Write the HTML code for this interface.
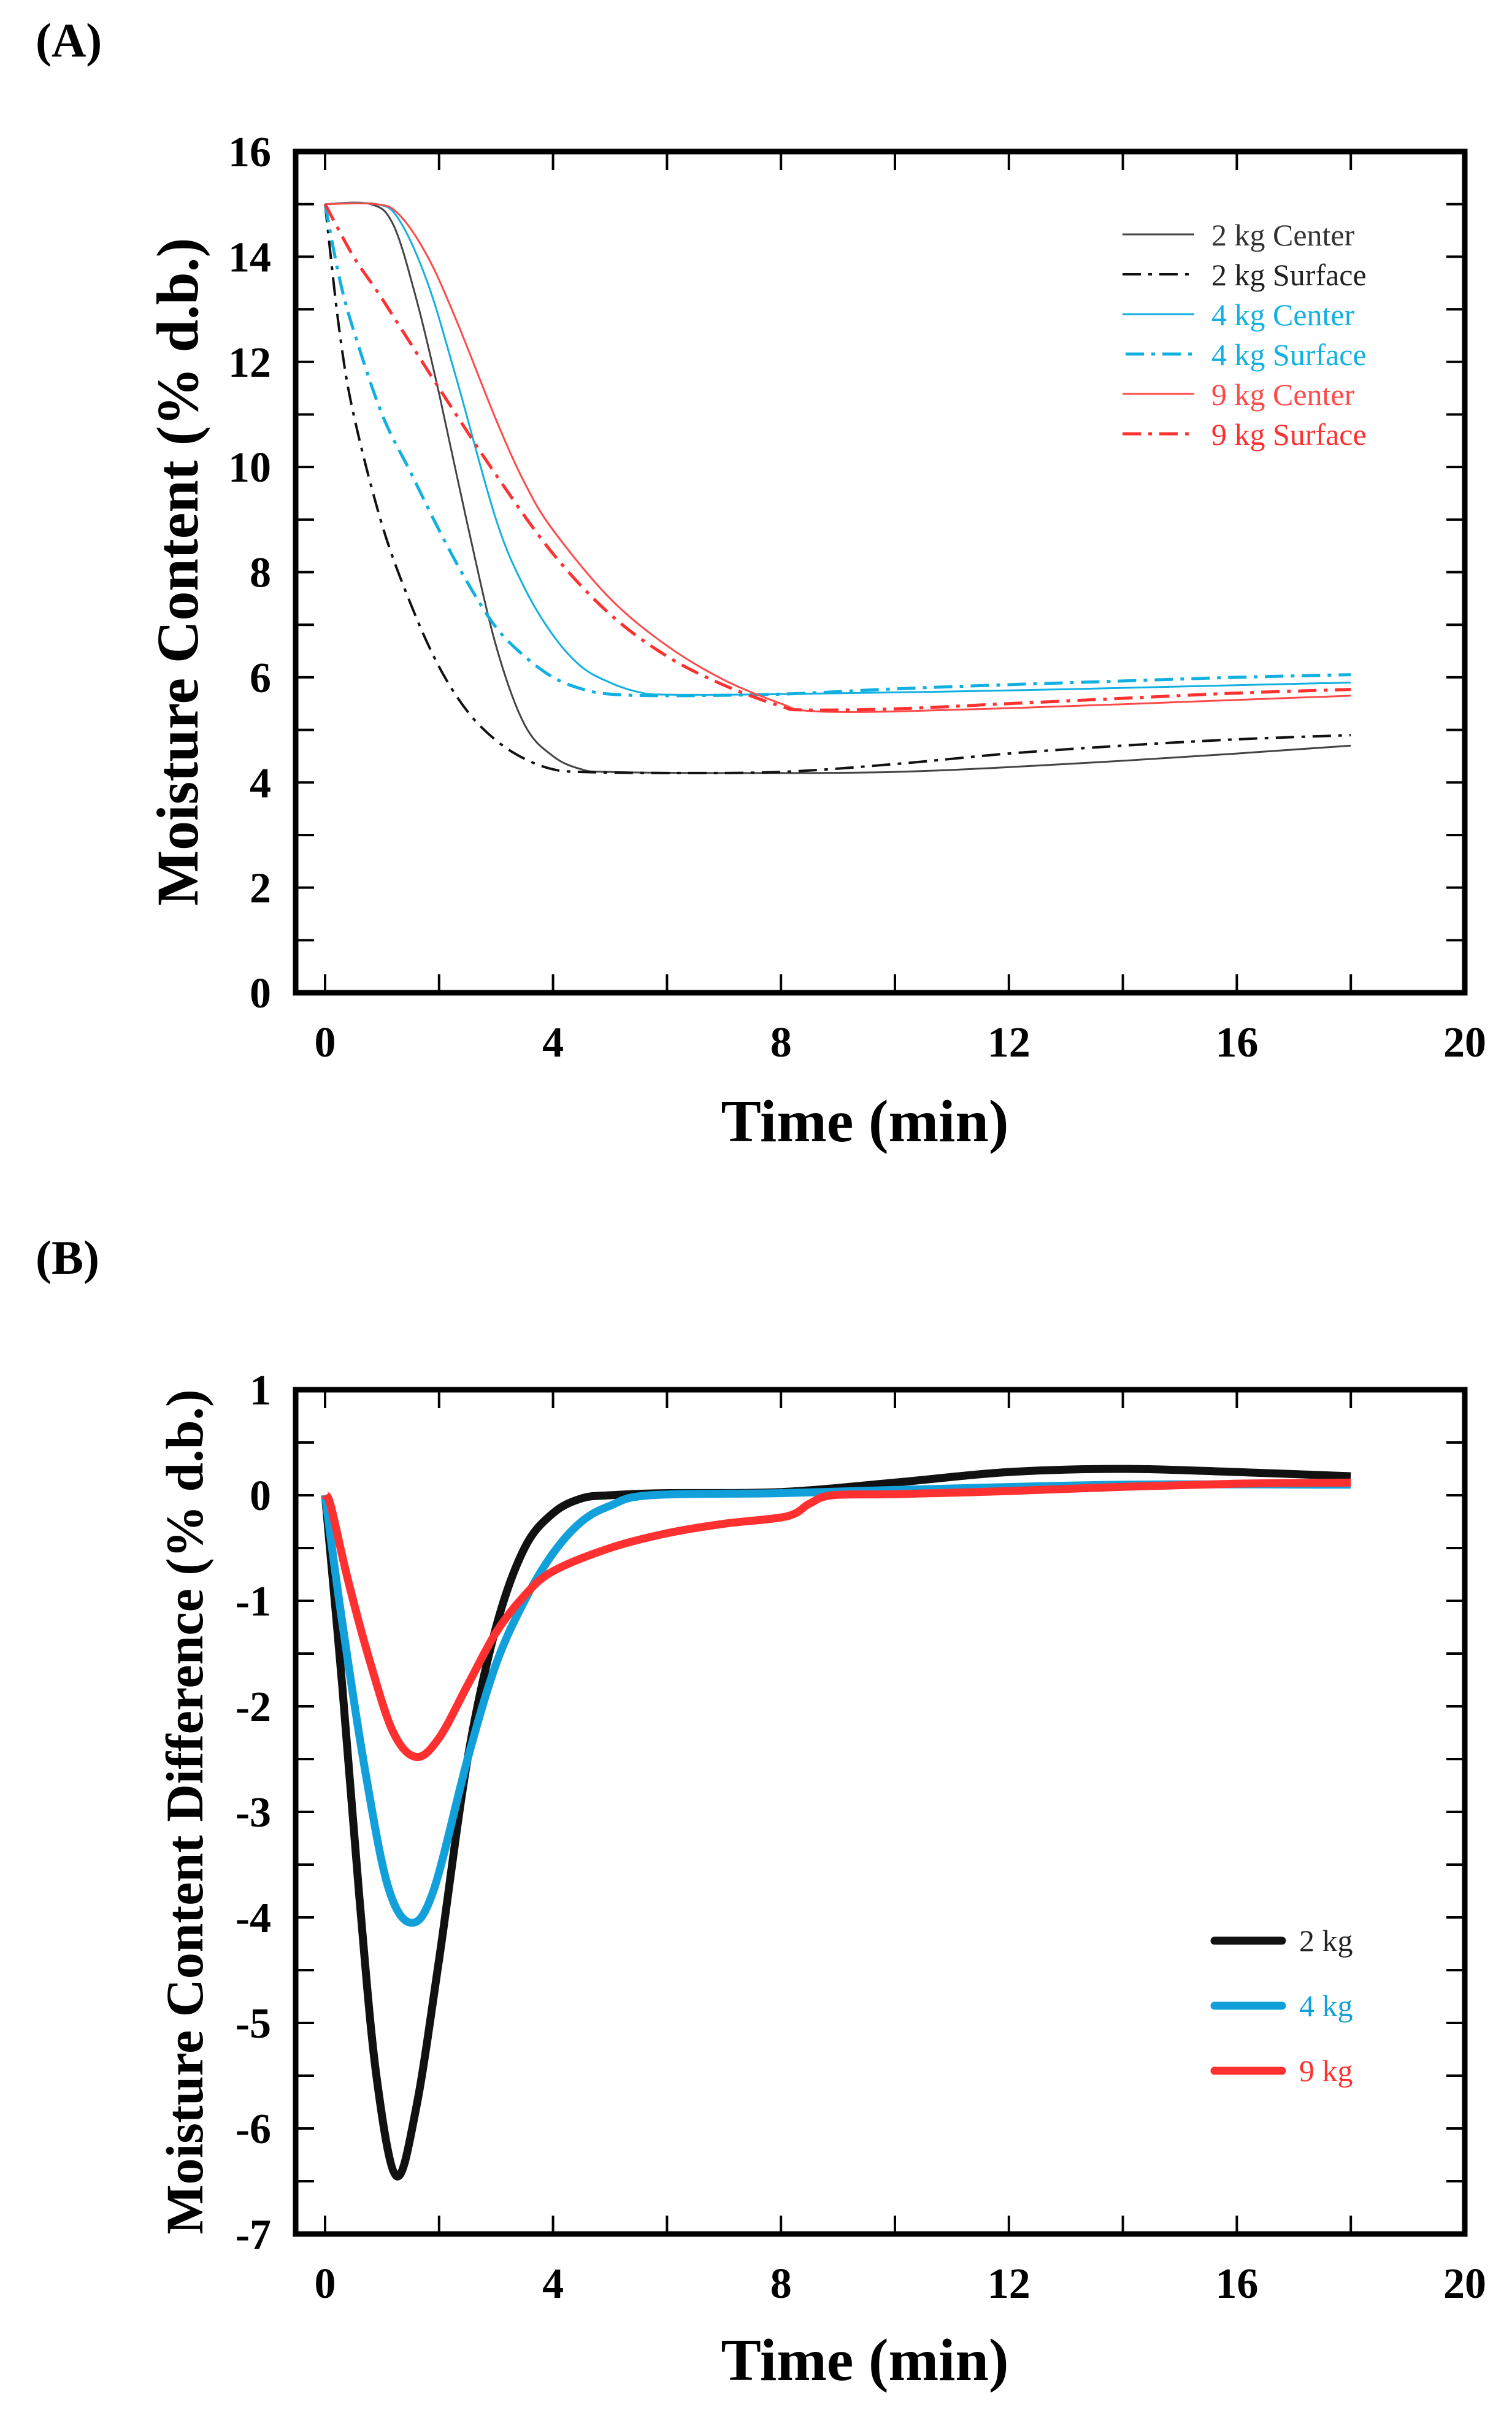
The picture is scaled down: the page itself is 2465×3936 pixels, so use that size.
<!DOCTYPE html>
<html><head><meta charset="utf-8"><style>
html,body{margin:0;padding:0;background:#fff;}
svg{display:block;}
text{font-family:"Liberation Serif",serif;}
</style></head><body>
<svg id="s" width="2465" height="3936" viewBox="0 0 2465 3936" xmlns="http://www.w3.org/2000/svg">
<rect width="2465" height="3936" fill="#fff"/>
<text x="58" y="92" font-size="78" font-weight="bold">(A)</text>
<text x="58" y="2076" font-size="78" font-weight="bold">(B)</text>
<g id="A"></g><g id="B"></g>
<text x="1410" y="1860" font-size="98" font-weight="bold" text-anchor="middle">Time (min)</text>
<text x="1410" y="3879" font-size="98" font-weight="bold" text-anchor="middle">Time (min)</text>
<text transform="translate(322,932) rotate(-90)" font-size="96" font-weight="bold" text-anchor="middle">Moisture Content (% d.b.)</text>
<text transform="translate(330,2953) rotate(-90)" font-size="86" font-weight="bold" text-anchor="middle">Moisture Content Difference (% d.b.)</text>
<!-- legend A -->
<g font-size="50">
<line x1="1830" y1="382" x2="1947" y2="382" stroke="#444" stroke-width="3"/>
<text x="1975" y="400" fill="#333">2 kg Center</text>
<line x1="1830" y1="447" x2="1947" y2="447" stroke="#111" stroke-width="4" stroke-dasharray="30,12,6,12"/>
<text x="1975" y="465" fill="#222">2 kg  Surface</text>
<line x1="1830" y1="512" x2="1947" y2="512" stroke="#12b0e0" stroke-width="3"/>
<text x="1975" y="530" fill="#12b0e0">4 kg Center</text>
<line x1="1835" y1="577" x2="1947" y2="577" stroke="#12b0e0" stroke-width="5" stroke-dasharray="30,12,6,12"/>
<text x="1975" y="595" fill="#12b0e0">4 kg Surface</text>
<line x1="1830" y1="642" x2="1947" y2="642" stroke="#ff4a4a" stroke-width="3"/>
<text x="1975" y="660" fill="#ff4a4a">9 kg Center</text>
<line x1="1830" y1="707" x2="1947" y2="707" stroke="#ff3030" stroke-width="5" stroke-dasharray="30,12,6,12"/>
<text x="1975" y="725" fill="#ff3030">9 kg Surface</text>
</g>
<g font-size="50">
<line x1="1980" y1="3163" x2="2090" y2="3163" stroke="#111" stroke-width="13" stroke-linecap="round"/>
<text x="2118" y="3180" fill="#222">2 kg</text>
<line x1="1980" y1="3269" x2="2090" y2="3269" stroke="#12a0db" stroke-width="13" stroke-linecap="round"/>
<text x="2118" y="3286" fill="#12a0db">4 kg</text>
<line x1="1980" y1="3375" x2="2090" y2="3375" stroke="#ff3030" stroke-width="13" stroke-linecap="round"/>
<text x="2118" y="3392" fill="#ff3030">9 kg</text>
</g>
</svg>
<script>
const NS="http://www.w3.org/2000/svg";
function el(p,t,a,txt){const e=document.createElementNS(NS,t);for(const k in a)e.setAttribute(k,a[k]);if(txt!==undefined)e.textContent=txt;p.appendChild(e);return e;}
const X=t=>530+92.9*t;
function axes(g,top,bot,ymin,ymax,ystepMinor,ylabels){
  const Y=v=>bot-(v-ymin)*(bot-top)/(ymax-ymin);
  for(let t=0;t<=18;t+=2){
    el(g,'line',{x1:X(t),y1:bot,x2:X(t),y2:bot-30,stroke:'#000','stroke-width':4});
    el(g,'line',{x1:X(t),y1:top,x2:X(t),y2:top+30,stroke:'#000','stroke-width':4});
  }
  for(let t=0;t<=20;t+=4){
    el(g,'text',{x:X(t),y:bot+104,'font-size':70,'font-weight':'bold','text-anchor':'middle'},String(t));
  }
  for(let v=ymin;v<=ymax+1e-9;v+=ystepMinor){
    el(g,'line',{x1:482,y1:Y(v),x2:512,y2:Y(v),stroke:'#000','stroke-width':4});
    el(g,'line',{x1:2388,y1:Y(v),x2:2358,y2:Y(v),stroke:'#000','stroke-width':4});
  }
  for(const v of ylabels){
    el(g,'text',{x:442,y:Y(v)+24,'font-size':70,'font-weight':'bold','text-anchor':'end'},String(v));
  }
  el(g,'rect',{x:482,y:top,width:1906,height:bot-top,fill:'none',stroke:'#000','stroke-width':9});
  return Y;
}
function path(g,pts,Y,attrs){
  const P=pts.map(p=>[X(p[0]),Y(p[1])]);
  let d='M'+P[0][0]+','+P[0][1];
  for(let i=0;i<P.length-1;i++){
    const p0=P[Math.max(0,i-1)],p1=P[i],p2=P[i+1],p3=P[Math.min(P.length-1,i+2)];
    const c1=[p1[0]+(p2[0]-p0[0])/6,p1[1]+(p2[1]-p0[1])/6];
    const c2=[p2[0]-(p3[0]-p1[0])/6,p2[1]-(p3[1]-p1[1])/6];
    d+=` C${c1[0]},${c1[1]} ${c2[0]},${c2[1]} ${p2[0]},${p2[1]}`;
  }
  attrs.d=d;attrs.fill='none';attrs['stroke-linejoin']='round';
  el(g,'path',attrs);
}
const gA=document.getElementById('A');
const YA=axes(gA,247,1618,0,16,1,[0,2,4,6,8,10,12,14,16]);
const DD='30,12,6,12';
path(gA,[[0,15],[0.8,15],[1.2,14.6],[1.6,13.2],[2,11.4],[2.5,8.9],[3,6.6],[3.5,5.1],[4,4.5],[4.5,4.25],[5,4.2],[7,4.18],[10,4.2],[13,4.35],[16,4.55],[18,4.7]],YA,{stroke:'#444','stroke-width':3});
path(gA,[[0,15],[0.25,12.6],[0.5,11],[1,8.9],[1.5,7.4],[2,6.2],[2.5,5.35],[3,4.8],[3.5,4.45],[4,4.25],[4.5,4.2],[6,4.18],[8,4.2],[10,4.35],[12,4.55],[14,4.7],[16,4.82],[18,4.9]],YA,{stroke:'#111','stroke-width':4,'stroke-dasharray':DD});
path(gA,[[0,15],[0.9,15],[1.3,14.7],[1.8,13.5],[2.3,11.7],[3,9.0],[3.5,7.7],[4,6.8],[4.5,6.2],[5,5.9],[5.5,5.72],[6,5.67],[8,5.68],[12,5.75],[16,5.85],[18,5.9]],YA,{stroke:'#12b0e0','stroke-width':3});
path(gA,[[0,15],[0.25,13.6],[0.5,12.6],[1,11],[1.5,9.9],[2,8.8],[2.5,7.8],[3,6.95],[3.5,6.4],[4,6.0],[4.5,5.78],[5,5.68],[6,5.65],[8,5.68],[10,5.78],[12,5.86],[14,5.93],[16,6.0],[18,6.05]],YA,{stroke:'#12b0e0','stroke-width':5,'stroke-dasharray':DD});
path(gA,[[0,15],[0.9,15],[1.3,14.8],[1.8,14.0],[2.3,12.8],[3,10.9],[3.5,9.7],[4,8.8],[5,7.5],[6,6.6],[7,5.95],[8,5.5],[8.5,5.36],[10,5.35],[13,5.45],[16,5.57],[18,5.65]],YA,{stroke:'#ff4a4a','stroke-width':3});
path(gA,[[0,15],[0.5,14],[1,13.2],[2,11.5],[3,9.85],[4,8.35],[5,7.2],[6,6.4],[7,5.85],[8,5.45],[8.4,5.38],[10,5.4],[12,5.5],[14,5.6],[16,5.7],[18,5.77]],YA,{stroke:'#ff3030','stroke-width':5,'stroke-dasharray':DD});
const gB=document.getElementById('B');
const YB=axes(gB,2265,3641,-7,1,0.5,[1,0,-1,-2,-3,-4,-5,-6,-7]);
path(gB,[[0,0],[0.3,-1.8],[0.6,-3.8],[0.9,-5.5],[1.25,-6.45],[1.6,-5.8],[2,-4.4],[2.5,-2.5],[3,-1.25],[3.5,-0.5],[4,-0.17],[4.5,-0.03],[5,0],[6,0.02],[8,0.03],[10,0.12],[12,0.22],[14,0.25],[16,0.22],[18,0.18]],YB,{stroke:'#111','stroke-width':13});
path(gB,[[0,0],[0.3,-1.2],[0.7,-2.6],[1.1,-3.7],[1.5,-4.05],[1.9,-3.75],[2.5,-2.5],[3,-1.6],[3.5,-1],[4,-0.55],[4.5,-0.25],[5,-0.1],[5.7,0],[8,0.02],[10,0.05],[14,0.1],[18,0.1]],YB,{stroke:'#12a0db','stroke-width':13});
path(gB,[[0,0],[0.1,-0.1],[0.4,-0.8],[0.8,-1.6],[1.2,-2.25],[1.6,-2.48],[2,-2.3],[2.5,-1.8],[3,-1.3],[3.5,-0.95],[4,-0.72],[5,-0.5],[6,-0.36],[7,-0.27],[8.1,-0.2],[8.5,-0.08],[8.9,0],[10,0.01],[12,0.04],[14,0.08],[16,0.11],[18,0.12]],YB,{stroke:'#ff3030','stroke-width':13});
</script>
</body></html>
